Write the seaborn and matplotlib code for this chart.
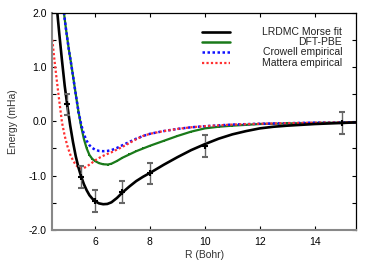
import matplotlib
matplotlib.use("Agg")
import matplotlib.pyplot as plt
import matplotlib.ticker as mticker
import seaborn as sns

# LRDMC data points with error bars
r_pts = [5.0, 5.5, 6.0, 7.0, 8.0, 10.0, 15.0]
e_pts = [0.31, -1.03, -1.47, -1.30, -0.96, -0.45, -0.03]
e_err = [0.2, 0.2, 0.2, 0.2, 0.2, 0.2, 0.2]

# LRDMC Morse fit
r_morse = [4.63, 4.7, 4.8, 4.9, 5.0, 5.1, 5.2, 5.3, 5.4, 5.5, 5.6, 5.7, 5.8, 5.9,
           6.0, 6.15, 6.3, 6.45, 6.6, 6.8, 7.0, 7.25, 7.5, 7.75, 8.0, 8.5, 9.0,
           9.5, 10.0, 10.5, 11.0, 11.5, 12.0, 12.5, 13.0, 14.0, 15.0, 15.5]
e_morse = [2.0, 1.62, 1.12, 0.65, 0.27, -0.08, -0.38, -0.64, -0.85, -1.02, -1.16,
           -1.27, -1.36, -1.42, -1.47, -1.51, -1.525, -1.52, -1.49, -1.41, -1.31,
           -1.20, -1.10, -1.02, -0.95, -0.80, -0.66, -0.53, -0.42, -0.32, -0.24,
           -0.18, -0.13, -0.10, -0.08, -0.05, -0.03, -0.02]

# DFT-PBE
r_pbe = [4.87, 4.95, 5.05, 5.12, 5.2, 5.3, 5.4, 5.5, 5.6, 5.7, 5.8, 5.9, 6.0,
         6.15, 6.3, 6.47, 6.6, 6.8, 7.0, 7.25, 7.5, 7.75, 8.0, 8.5, 9.0, 9.5,
         10.0, 10.5, 11.0, 11.5, 12.0, 13.0, 14.0, 15.5]
e_pbe = [2.0, 1.68, 1.32, 1.10, 0.84, 0.50, 0.18, -0.10, -0.33, -0.50, -0.62,
         -0.69, -0.73, -0.77, -0.79, -0.795, -0.78, -0.73, -0.67, -0.61, -0.55,
         -0.50, -0.45, -0.36, -0.27, -0.19, -0.13, -0.10, -0.08, -0.065, -0.05,
         -0.04, -0.03, -0.02]

# Crowell empirical
r_crow = [4.87, 4.95, 5.05, 5.12, 5.2, 5.3, 5.4, 5.5, 5.6, 5.7, 5.8, 5.9, 6.0,
          6.15, 6.3, 6.45, 6.6, 6.8, 7.0, 7.25, 7.5, 7.75, 8.0, 8.5, 9.0, 9.5,
          10.0, 11.0, 12.0, 13.0, 14.0, 15.5]
e_crow = [2.0, 1.68, 1.32, 1.10, 0.84, 0.50, 0.18, -0.06, -0.24, -0.36, -0.44,
          -0.49, -0.52, -0.545, -0.55, -0.545, -0.53, -0.49, -0.44, -0.38, -0.32,
          -0.27, -0.23, -0.18, -0.14, -0.11, -0.09, -0.06, -0.045, -0.035,
          -0.025, -0.02]

# Mattera empirical
r_matt = [4.45, 4.5, 4.55, 4.6, 4.7, 4.8, 4.9, 5.0, 5.1, 5.2, 5.3, 5.4, 5.5, 5.6,
          5.7, 5.85, 6.0, 6.2, 6.4, 6.6, 6.8, 7.0, 7.25, 7.5, 7.75, 8.0, 8.5,
          9.0, 9.5, 10.0, 11.0, 12.0, 13.0, 14.0, 15.5]
e_matt = [1.5, 1.25, 1.02, 0.80, 0.38, -0.02, -0.27, -0.46, -0.61, -0.72, -0.80,
          -0.85, -0.87, -0.86, -0.83, -0.78, -0.72, -0.66, -0.61, -0.57, -0.52,
          -0.47, -0.40, -0.33, -0.27, -0.23, -0.18, -0.14, -0.11, -0.09, -0.06,
          -0.045, -0.035, -0.025, -0.02]

sns.set_style("ticks")
plt.rcParams["font.family"] = ["Liberation Sans", "DejaVu Sans"]
plt.rcParams["axes.unicode_minus"] = False

fig = plt.figure(figsize=(3.74, 2.62), dpi=100)
ax = fig.add_axes([0.140, 0.122, 0.812, 0.830])

sns.lineplot(x=r_pbe, y=e_pbe, ax=ax, color="#1a7a1a", lw=1.6, marker="s",
             markersize=1.8, markeredgewidth=0, sort=False)
sns.lineplot(x=r_crow, y=e_crow, ax=ax, color="#1010ff", lw=1.8,
             linestyle=(0, (1, 1)), sort=False)
sns.lineplot(x=r_matt, y=e_matt, ax=ax, color="#ff3030", lw=1.6,
             linestyle=(0, (1, 1)), sort=False)
sns.lineplot(x=r_morse, y=e_morse, ax=ax, color="black", lw=1.9, sort=False)
ax.errorbar(r_pts, e_pts, yerr=e_err, fmt="+", color="black", ms=5, mew=1.5,
            ecolor="#666666", elinewidth=1.0, capsize=2.0, capthick=1.0)

ax.set_xlim(4.45, 15.5)
ax.set_ylim(-2.0, 2.0)
ax.xaxis.set_major_locator(mticker.MultipleLocator(2))
ax.yaxis.set_major_locator(mticker.MultipleLocator(0.5))
ax.yaxis.set_major_formatter(mticker.FuncFormatter(
    lambda v, p: f"{v:.1f}" if abs(v - round(v)) < 1e-6 else ""))
ax.tick_params(direction="in", top=True, right=True, length=3, width=0.8,
               labelsize=7.5, pad=4, colors="black")
ax.tick_params(axis="x", pad=5)
ax.set_xlabel("R (Bohr)", fontsize=7.5, color="#333333", labelpad=2)
ax.set_ylabel("Energy (mHa)", fontsize=7.5, color="#333333", labelpad=8)

for side in ["top", "right"]:
    ax.spines[side].set_visible(True)
    ax.spines[side].set_color("black")
    ax.spines[side].set_linewidth(0.9)
for side in ["left", "bottom"]:
    ax.spines[side].set_color("#888888")
    ax.spines[side].set_linewidth(1.5)

# gnuplot-style key: sample line on the left, right-aligned text
legend_rows = [
    ("LRDMC Morse fit", dict(color="black", lw=1.9)),
    ("DFT-PBE", dict(color="#1a7a1a", lw=1.8)),
    ("Crowell empirical", dict(color="#1010ff", lw=1.8, linestyle=(0, (1, 1)))),
    ("Mattera empirical", dict(color="#ff3030", lw=1.6, linestyle=(0, (1, 1)))),
]
row_y = [0.912, 0.865, 0.817, 0.770]
for (label, style), yy in zip(legend_rows, row_y):
    ax.plot([0.493, 0.585], [yy, yy], transform=ax.transAxes, **style)
    ax.text(0.954, yy, label, transform=ax.transAxes, ha="right", va="center",
            fontsize=7.5, color="#222222")

fig.savefig("out.png", dpi=100)
